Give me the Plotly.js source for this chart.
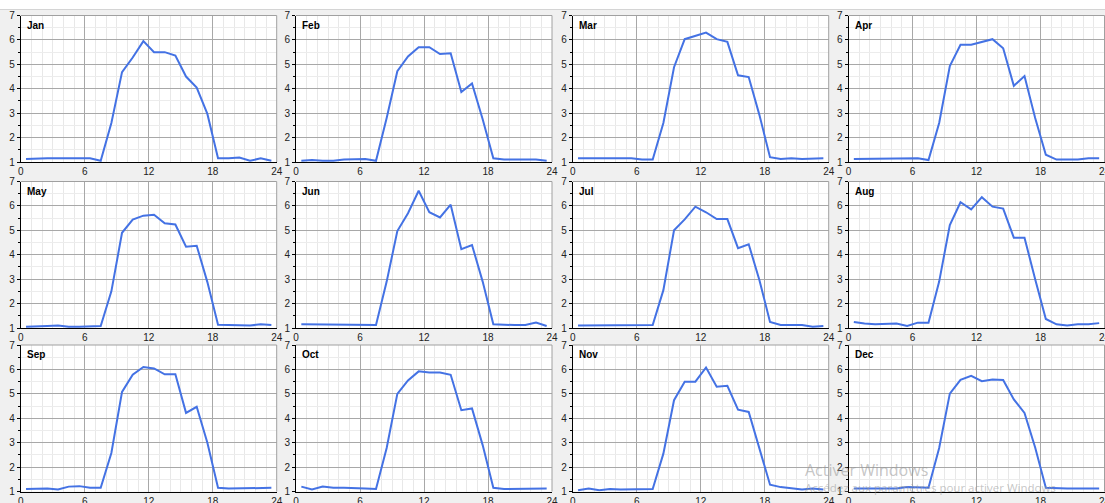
<!DOCTYPE html>
<html>
<head>
<meta charset="utf-8">
<script src="https://cdn.plot.ly/plotly-3.0.1.min.js"></script>
<style>
  html, body { margin: 0; padding: 0; background: #f0f0f0; }
  #chart { width: 1105px; height: 503px; }
</style>
</head>
<body>
<div id="chart"></div>
<script>
// Hourly profile, one value per half-past hour
const hours = [0.5, 1.5, 2.5, 3.5, 4.5, 5.5, 6.5, 7.5, 8.5, 9.5, 10.5, 11.5,
               12.5, 13.5, 14.5, 15.5, 16.5, 17.5, 18.5, 19.5, 20.5, 21.5, 22.5, 23.5];

const monthNames = ["Jan", "Feb", "Mar", "Apr", "May", "Jun",
                    "Jul", "Aug", "Sep", "Oct", "Nov", "Dec"];

const jan = [1.12, 1.15, 1.15, 1.15, 1.15, 1.12, 1.15, 1.05, 2.6, 4.68, 5.28, 5.95,
             5.5, 5.5, 5.36, 4.5, 4.05, 2.97, 1.15, 1.15, 1.18, 1.05, 1.15, 1.05];
const feb = [1.05, 1.08, 1.05, 1.05, 1.1, 1.1, 1.12, 1.05, 2.8, 4.72, 5.32, 5.7,
             5.7, 5.42, 5.45, 3.87, 4.22, 2.75, 1.15, 1.1, 1.1, 1.1, 1.1, 1.05];
const mar = [1.15, 1.15, 1.15, 1.15, 1.12, 1.15, 1.1, 1.1, 2.6, 4.88, 6.03, 6.18,
             6.3, 6.03, 5.92, 4.55, 4.48, 2.93, 1.2, 1.12, 1.15, 1.12, 1.15, 1.15];
const apr = [1.12, 1.12, 1.12, 1.12, 1.15, 1.12, 1.15, 1.08, 2.6, 4.93, 5.8, 5.8,
             5.9, 6.03, 5.66, 4.12, 4.52, 2.8, 1.3, 1.1, 1.1, 1.1, 1.15, 1.15];
const may = [1.05, 1.05, 1.08, 1.1, 1.05, 1.05, 1.08, 1.08, 2.5, 4.9, 5.44, 5.6,
             5.64, 5.29, 5.24, 4.33, 4.37, 2.88, 1.13, 1.12, 1.1, 1.1, 1.15, 1.12];
const jun = [1.15, 1.15, 1.12, 1.12, 1.12, 1.15, 1.12, 1.12, 2.9, 4.97, 5.7, 6.62,
             5.74, 5.53, 6.05, 4.23, 4.4, 2.9, 1.15, 1.12, 1.12, 1.12, 1.22, 1.08];
const jul = [1.1, 1.1, 1.12, 1.12, 1.12, 1.1, 1.1, 1.12, 2.55, 5.0, 5.45, 5.97,
             5.74, 5.46, 5.46, 4.27, 4.43, 2.97, 1.25, 1.12, 1.12, 1.12, 1.05, 1.08];
const aug = [1.25, 1.18, 1.15, 1.18, 1.18, 1.08, 1.22, 1.22, 2.9, 5.22, 6.15, 5.86,
             6.36, 5.97, 5.89, 4.7, 4.7, 3.0, 1.37, 1.15, 1.1, 1.15, 1.15, 1.2];
const sep = [1.1, 1.1, 1.12, 1.08, 1.2, 1.22, 1.15, 1.15, 2.58, 5.08, 5.78, 6.1,
             6.04, 5.8, 5.8, 4.22, 4.47, 3.0, 1.15, 1.12, 1.12, 1.12, 1.12, 1.15];
const oct = [1.2, 1.08, 1.2, 1.15, 1.15, 1.12, 1.12, 1.1, 2.78, 5.0, 5.55, 5.92,
             5.87, 5.87, 5.78, 4.33, 4.4, 2.9, 1.15, 1.1, 1.1, 1.1, 1.12, 1.12];
const nov = [1.05, 1.12, 1.05, 1.1, 1.08, 1.08, 1.08, 1.1, 2.55, 4.74, 5.5, 5.5,
             6.08, 5.29, 5.33, 4.35, 4.26, 2.75, 1.28, 1.18, 1.12, 1.08, 1.12, 1.08];
const dec = [1.12, 1.12, 1.12, 1.1, 1.12, 1.18, 1.15, 1.15, 2.78, 5.01, 5.57, 5.74,
             5.52, 5.59, 5.57, 4.77, 4.22, 2.8, 1.15, 1.12, 1.12, 1.12, 1.12, 1.12];

const monthValues = [jan, feb, mar, apr, may, jun, jul, aug, sep, oct, nov, dec];

const xTicks = [0, 6, 12, 18, 24];
const yTicks = [1, 2, 3, 4, 5, 6, 7];

// Page geometry in pixels
const W = 1105, H = 503;
const colLeft = [20.7, 296, 572.7, 848.5];
const rowTop = [15.5, 181.5, 345];
const plotW = 256, plotH = 146.5;

const fx = px => px / W;
const fy = py => 1 - py / H;

const tickFont = { family: "Liberation Sans, Arial, sans-serif", size: 10, color: "#222" };

const traces = [];
const layout = {
  width: W, height: H,
  margin: { l: 0, r: 0, t: 0, b: 0 },
  paper_bgcolor: "#f0f0f0",
  plot_bgcolor: "#ffffff",
  showlegend: false,
  shapes: [
    { type: "rect", xref: "paper", yref: "paper", x0: 0, x1: 1, y0: fy(9), y1: 1,
      fillcolor: "#ffffff", line: { width: 0 }, layer: "below" },
    { type: "line", xref: "paper", yref: "paper", x0: 0, x1: 1, y0: fy(9.5), y1: fy(9.5),
      line: { color: "#d4d4d4", width: 1 }, layer: "below" }
  ],
  annotations: []
};

monthValues.forEach((vals, i) => {
  const n = i + 1;
  const r = Math.floor(i / 4), c = i % 4;
  const x0 = colLeft[c], x1 = colLeft[c] + plotW;
  const y0 = rowTop[r], y1 = rowTop[r] + plotH;
  const xa = "xaxis" + (n === 1 ? "" : n), ya = "yaxis" + (n === 1 ? "" : n);
  const xid = "x" + (n === 1 ? "" : n), yid = "y" + (n === 1 ? "" : n);

  traces.push({
    type: "scatter", mode: "lines",
    x: hours, y: vals,
    xaxis: xid, yaxis: yid,
    line: { color: "#4472e4", width: 2 },
    hoverinfo: "x+y"
  });

  layout[xa] = {
    domain: [fx(x0), fx(x1)],
    anchor: yid,
    range: [0, 24],
    tickmode: "array", tickvals: xTicks,
    ticks: "",
    tickfont: tickFont,
    ticklabeloverflow: "allow",
    showgrid: true, gridcolor: "#a8a8a8", gridwidth: 1,
    minor: { dtick: 1, showgrid: true, gridcolor: "#e8e8e8", gridwidth: 1 },
    showline: true, linecolor: "#000", linewidth: 1,
    zeroline: false, fixedrange: true
  };
  layout[ya] = {
    domain: [fy(y1), fy(y0)],
    anchor: xid,
    range: [1, 7],
    tickmode: "array", tickvals: yTicks,
    ticks: "outside", ticklen: 3, tickcolor: "#000",
    tickfont: tickFont,
    ticklabeloverflow: "allow",
    showgrid: true, gridcolor: "#a8a8a8", gridwidth: 1,
    minor: { dtick: 0.5, ticks: "outside", ticklen: 2, tickcolor: "#000",
             showgrid: true, gridcolor: "#ececec", gridwidth: 1 },
    showline: true, linecolor: "#000", linewidth: 1,
    zeroline: false, fixedrange: true
  };

  // light frame on the top and right edges of each panel
  layout.shapes.push(
    { type: "line", xref: "paper", yref: "paper", x0: fx(x0), x1: fx(x1), y0: fy(y0), y1: fy(y0),
      line: { color: "#a0a0a0", width: 1 } },
    { type: "line", xref: "paper", yref: "paper", x0: fx(x1), x1: fx(x1), y0: fy(y0), y1: fy(y1),
      line: { color: "#a0a0a0", width: 1 } }
  );

  layout.annotations.push({
    xref: "paper", yref: "paper",
    x: fx(x0 + 4), y: fy(y0 + 2),
    xanchor: "left", yanchor: "top",
    text: "<b>" + monthNames[i] + "</b>",
    showarrow: false,
    font: { family: "Liberation Sans, Arial, sans-serif", size: 10, color: "#000" },
    bgcolor: "rgba(255,255,255,0)"
  });
});

// system overlay text in the lower right corner
layout.annotations.push(
  { xref: "paper", yref: "paper", x: fx(803), y: fy(470), xanchor: "left", yanchor: "middle",
    text: "Activer Windows", showarrow: false,
    font: { family: "Open Sans, Noto Sans, sans-serif", size: 16, color: "rgba(150,150,150,0.55)" } },
  { xref: "paper", yref: "paper", x: fx(803), y: fy(487), xanchor: "left", yanchor: "middle",
    text: "Accédez aux paramètres pour activer Windows", showarrow: false,
    font: { family: "Open Sans, Noto Sans, sans-serif", size: 11.5, color: "rgba(150,150,150,0.55)" } }
);

Plotly.newPlot("chart", traces, layout, { displayModeBar: false, staticPlot: true });
</script>
</body>
</html>
